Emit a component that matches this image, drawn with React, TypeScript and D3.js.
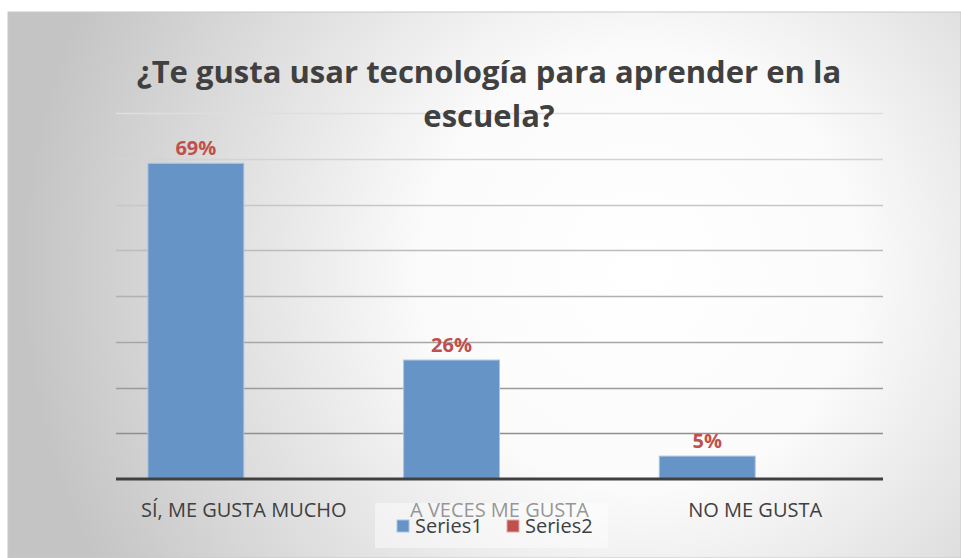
import React from "react";
import * as d3 from "d3";

const categories = ["SÍ, ME GUSTA MUCHO", "A VECES ME GUSTA", "NO ME GUSTA"];
const series1 = [0.69, 0.26, 0.05];
const series2 = [0, 0, 0];
const seriesNames = ["Series1", "Series2"];
const yTicks = [0.1, 0.2, 0.3, 0.4, 0.5, 0.6, 0.7, 0.8];
const titleLines = ["¿Te gusta usar tecnología para aprender en la", "escuela?"];

const W = 961;
const H = 558;
const plot = { left: 116, right: 883, top: 113, bottom: 479 };
const FONT = "'Open Sans', Lato, sans-serif";
const BLUE = "#6794c7";
const RED = "#c0504d";

export default function App() {
  const x = d3.scaleBand<string>().domain(categories).range([plot.left, plot.right]).paddingInner(0).paddingOuter(0);
  const inner = d3.scaleBand<string>().domain(seriesNames).range([0, x.bandwidth()]).paddingOuter(0.333).paddingInner(0);
  const y = d3.scaleLinear().domain([0, 0.8]).range([plot.bottom, plot.top]);
  const fmt = d3.format(".0%");
  const gridColor = d3.scaleLinear<string>().domain([0.8, 0.1]).range(["#dedede", "#8f8f8f"]);

  return (
    <svg width={W} height={H} style={{ position: "absolute", left: 0, top: 0 }} fontFamily={FONT}>
      <defs>
        <radialGradient id="bg" cx="640" cy="270" r="620" gradientUnits="userSpaceOnUse">
          <stop offset="0" stopColor="#ffffff" />
          <stop offset="0.35" stopColor="#fbfbfb" />
          <stop offset="1" stopColor="#c4c4c4" />
        </radialGradient>
      </defs>
      <rect x={0} y={0} width={W} height={H} fill="#ffffff" />
      <rect x={8} y={12} width={W - 8} height={H - 12} fill="url(#bg)" stroke="#c8c8c8" strokeWidth={1} />

      {yTicks.map((t) => (
        <line key={t} x1={plot.left} x2={plot.right} y1={Math.round(y(t)) + 0.5} y2={Math.round(y(t)) + 0.5} stroke={gridColor(t)} strokeWidth={1.5} />
      ))}

      {categories.map((c, i) => {
        const x0 = x(c)!;
        const bx1 = x0 + inner("Series1")!;
        const bx2 = x0 + inner("Series2")!;
        return (
          <g key={c}>
            <rect x={bx1} y={y(series1[i])} width={inner.bandwidth()} height={plot.bottom - y(series1[i])} fill={BLUE} stroke="#a8c3e3" strokeWidth={1} />
            {series2[i] > 0 && (
              <rect x={bx2} y={y(series2[i])} width={inner.bandwidth()} height={plot.bottom - y(series2[i])} fill={RED} />
            )}
            <text x={bx1 + inner.bandwidth() / 2} y={y(series1[i]) - 8} textAnchor="middle" fontSize={20} fontWeight={700} fill={RED}>
              {fmt(series1[i])}
            </text>
            <text x={x0 + x.bandwidth() / 2} y={517} textAnchor="middle" fontSize={20} fill="#404040">
              {c}
            </text>
          </g>
        );
      })}

      <line x1={plot.left} x2={plot.right} y1={plot.bottom} y2={plot.bottom} stroke="#404040" strokeWidth={3} />

      {titleLines.map((t, i) => (
        <text key={i} x={489} y={83 + i * 44} textAnchor="middle" fontSize={31} fontWeight={700} fill="#404040">
          {t}
        </text>
      ))}

      <rect x={375} y={503} width={233} height={45} fill="#ffffff" opacity={0.45} />
      {seriesNames.map((s, i) => (
        <g key={s} transform={`translate(${397 + i * 110},0)`}>
          <rect x={0} y={520} width={12} height={12} fill={i === 0 ? BLUE : RED} stroke={i === 0 ? "#a8c3e3" : "#e0a9a8"} strokeWidth={1} />
          <text x={18} y={533} fontSize={20} fill="#404040">{s}</text>
        </g>
      ))}
    </svg>
  );
}
